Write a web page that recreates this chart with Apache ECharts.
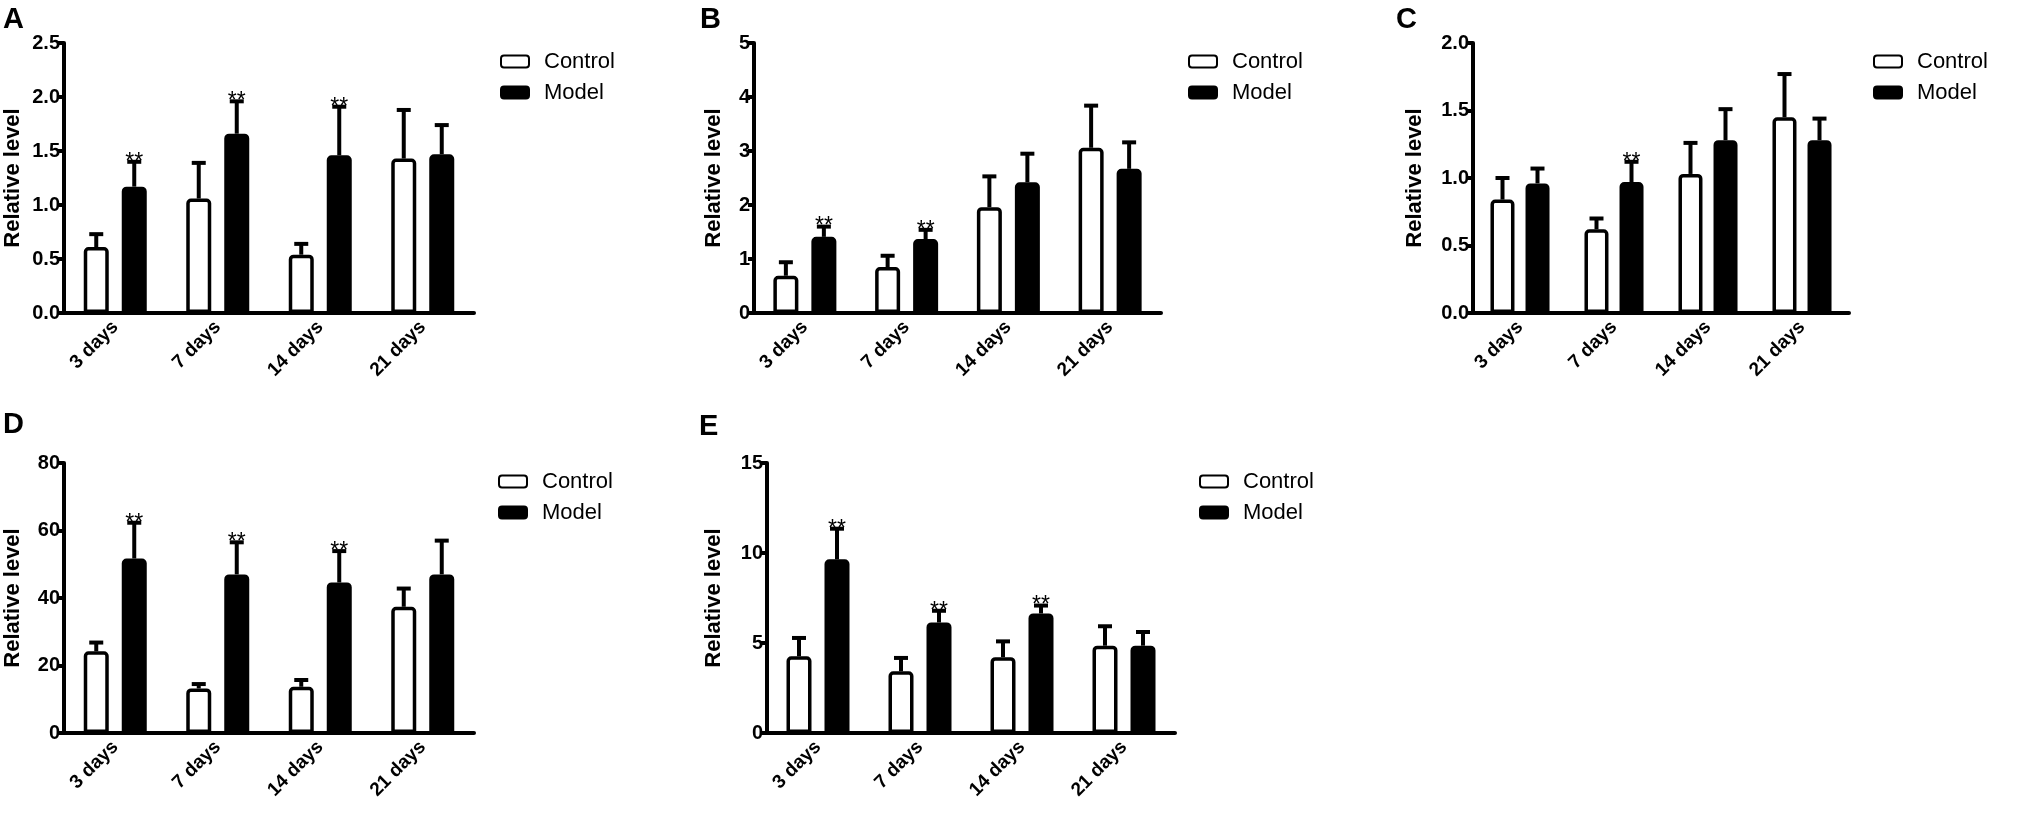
<!DOCTYPE html>
<html>
<head>
<meta charset="utf-8">
<title>Relative level</title>
<script src="https://cdn.jsdelivr.net/npm/echarts@6/dist/echarts.min.js"></script>
<style>
    html, body {margin: 0; padding: 0; background: #fff;}
    #chart {width: 2024px; height: 813px;}
</style>
</head>
<body>
<div id="chart"></div>
<script>
var categories = ['3 days', '7 days', '14 days', '21 days'];
var seriesNames = ['Control', 'Model'];

// A
var controlA = [0.61, 1.06, 0.54, 1.43];
var controlErrA = [0.12, 0.33, 0.10, 0.45];
var modelA = [1.17, 1.66, 1.46, 1.47];
var modelErrA = [0.23, 0.30, 0.45, 0.27];
var sigA = ['**', '**', '**', ''];
var ticksA = [0, 0.5, 1.0, 1.5, 2.0, 2.5];

// B
var controlB = [0.69, 0.85, 1.96, 3.06];
var controlErrB = [0.25, 0.21, 0.57, 0.78];
var modelB = [1.41, 1.37, 2.42, 2.67];
var modelErrB = [0.19, 0.17, 0.53, 0.49];
var sigB = ['**', '**', '', ''];
var ticksB = [0, 1, 2, 3, 4, 5];

// C
var controlC = [0.84, 0.62, 1.03, 1.45];
var controlErrC = [0.16, 0.08, 0.23, 0.32];
var modelC = [0.96, 0.97, 1.28, 1.28];
var modelErrC = [0.11, 0.15, 0.23, 0.16];
var sigC = ['', '**', '', ''];
var ticksC = [0, 0.5, 1.0, 1.5, 2.0];

// D
var controlD = [24.2, 13.2, 13.7, 37.4];
var controlErrD = [2.6, 1.3, 2.0, 5.4];
var modelD = [51.7, 47.0, 44.6, 47.0];
var modelErrD = [10.6, 9.5, 9.3, 10.0];
var sigD = ['**', '**', '**', ''];
var ticksD = [0, 20, 40, 60, 80];

// E
var controlE = [4.26, 3.43, 4.21, 4.85];
var controlErrE = [1.02, 0.74, 0.88, 1.08];
var modelE = [9.65, 6.14, 6.64, 4.85];
var modelErrE = [1.70, 0.65, 0.44, 0.76];
var sigE = ['**', '**', '**', ''];
var ticksE = [0, 5, 10, 15];

var panels = [
    {letter: 'A', control: controlA, controlErr: controlErrA, model: modelA, modelErr: modelErrA, sig: sigA, ticks: ticksA, digits: 1,
        grid: {left: 64, top: 43, width: 410, height: 270}, barWidth: 25, offset: 19, nameGap: 40,
        legend: {left: 500, top: 50}, letterPos: [3, 5]},
    {letter: 'B', control: controlB, controlErr: controlErrB, model: modelB, modelErr: modelErrB, sig: sigB, ticks: ticksB, digits: 0,
        grid: {left: 754, top: 43, width: 407, height: 270}, barWidth: 25, offset: 19, nameGap: 29,
        legend: {left: 1188, top: 50}, letterPos: [700, 5]},
    {letter: 'C', control: controlC, controlErr: controlErrC, model: modelC, modelErr: modelErrC, sig: sigC, ticks: ticksC, digits: 1,
        grid: {left: 1473, top: 43, width: 376, height: 270}, barWidth: 24, offset: 17.5, nameGap: 47,
        legend: {left: 1873, top: 50}, letterPos: [1396, 5]},
    {letter: 'D', control: controlD, controlErr: controlErrD, model: modelD, modelErr: modelErrD, sig: sigD, ticks: ticksD, digits: 0,
        grid: {left: 64, top: 463, width: 410, height: 270}, barWidth: 25, offset: 19, nameGap: 40,
        legend: {left: 498, top: 470}, letterPos: [3, 410]},
    {letter: 'E', control: controlE, controlErr: controlErrE, model: modelE, modelErr: modelErrE, sig: sigE, ticks: ticksE, digits: 0,
        grid: {left: 767, top: 463, width: 408, height: 270}, barWidth: 25, offset: 19, nameGap: 42,
        legend: {left: 1199, top: 470}, letterPos: [699, 412]}
];

var fontFamily = '"Liberation Sans", Arial, Helvetica, sans-serif';
var lineW = 4;

// 误差线 + 显著性标记
function errorBarRender(offset, sig) {
    return function (params, api) {
        var base = api.coord([api.value(0), api.value(1)]);
        var top = api.coord([api.value(0), api.value(1) + api.value(2)]);
        var cx = base[0] + offset;
        var children = [
            {type: 'line', shape: {x1: cx, y1: base[1], x2: cx, y2: top[1]}, style: {stroke: '#000', lineWidth: lineW}},
            {type: 'line', shape: {x1: cx - 7, y1: top[1], x2: cx + 7, y2: top[1]}, style: {stroke: '#000', lineWidth: lineW}}
        ];
        if (sig && sig[params.dataIndex]) {
            children.push({
                type: 'text',
                style: {
                    text: sig[params.dataIndex], x: cx, y: top[1] - 11,
                    align: 'center', verticalAlign: 'top',
                    font: '23px ' + fontFamily, fill: '#000'
                }
            });
        }
        return {type: 'group', children: children};
    };
}

function errData(values, errs) {
    var out = [];
    for (var i = 0; i < values.length; i++) {
        out.push([i, values[i], errs[i]]);
    }
    return out;
}

var option = {
    backgroundColor: '#fff',
    animation: false,
    grid: [], xAxis: [], yAxis: [], legend: [], series: [], graphic: []
};

for (var p = 0; p < panels.length; p++) {
    var pn = panels[p];
    var ticks = pn.ticks;
    var step = ticks[1] - ticks[0];
    option.grid.push(pn.grid);
    option.xAxis.push({
        type: 'category', gridIndex: p, data: categories,
        axisLine: {lineStyle: {color: '#000', width: lineW}},
        axisTick: {alignWithLabel: true, length: 7, lineStyle: {color: '#000', width: lineW}},
        axisLabel: {rotate: 45, margin: 11, color: '#000', fontWeight: 'bold', fontSize: 19, fontFamily: fontFamily},
        splitLine: {show: false}
    });
    option.yAxis.push({
        type: 'value', gridIndex: p,
        min: ticks[0], max: ticks[ticks.length - 1], interval: step,
        name: 'Relative level', nameLocation: 'middle', nameGap: pn.nameGap,
        nameTextStyle: {color: '#000', fontWeight: 'bold', fontSize: 22, fontFamily: fontFamily},
        axisLine: {show: true, lineStyle: {color: '#000', width: lineW}},
        axisTick: {show: true, length: 6, lineStyle: {color: '#000', width: lineW}},
        axisLabel: {
            margin: 4, color: '#000', fontWeight: 'bold', fontSize: 20, fontFamily: fontFamily,
            formatter: (function (d) { return function (v) { return v.toFixed(d); }; })(pn.digits)
        },
        splitLine: {show: false}
    });
    option.legend.push({
        data: seriesNames, orient: 'vertical', left: pn.legend.left, top: pn.legend.top,
        padding: 0, itemWidth: 28, itemHeight: 12, itemGap: 8, selectedMode: false,
        icon: 'roundRect',
        textStyle: {color: '#000', fontSize: 22, fontFamily: fontFamily, lineHeight: 23, padding: [0, 0, 0, 10]}
    });
    option.series.push({
        name: 'Control', type: 'bar', xAxisIndex: p, yAxisIndex: p, data: pn.control,
        barWidth: pn.barWidth, barGap: ((2 * pn.offset - pn.barWidth) / pn.barWidth * 100).toFixed(0) + '%',
        itemStyle: {color: '#fff', borderColor: '#000', borderWidth: 3.5, borderRadius: [3, 3, 0, 0]},
        z: 3
    });
    option.series.push({
        name: 'Model', type: 'bar', xAxisIndex: p, yAxisIndex: p, data: pn.model,
        barWidth: pn.barWidth,
        itemStyle: {color: '#000', borderColor: '#000', borderWidth: 3.5, borderRadius: [3, 3, 0, 0]},
        z: 3
    });
    option.series.push({
        name: 'Control err', type: 'custom', xAxisIndex: p, yAxisIndex: p,
        renderItem: errorBarRender(-pn.offset, null), data: errData(pn.control, pn.controlErr), z: 2
    });
    option.series.push({
        name: 'Model err', type: 'custom', xAxisIndex: p, yAxisIndex: p,
        renderItem: errorBarRender(pn.offset, pn.sig), data: errData(pn.model, pn.modelErr), z: 2
    });
    option.graphic.push({
        type: 'text', left: pn.letterPos[0], top: pn.letterPos[1],
        style: {text: pn.letter, font: 'bold 29px ' + fontFamily, fill: '#000'}
    });
}

var chart = echarts.init(document.getElementById('chart'));
chart.setOption(option);

window.onresize = function () {
    chart.resize();
};
</script>
</body>
</html>
